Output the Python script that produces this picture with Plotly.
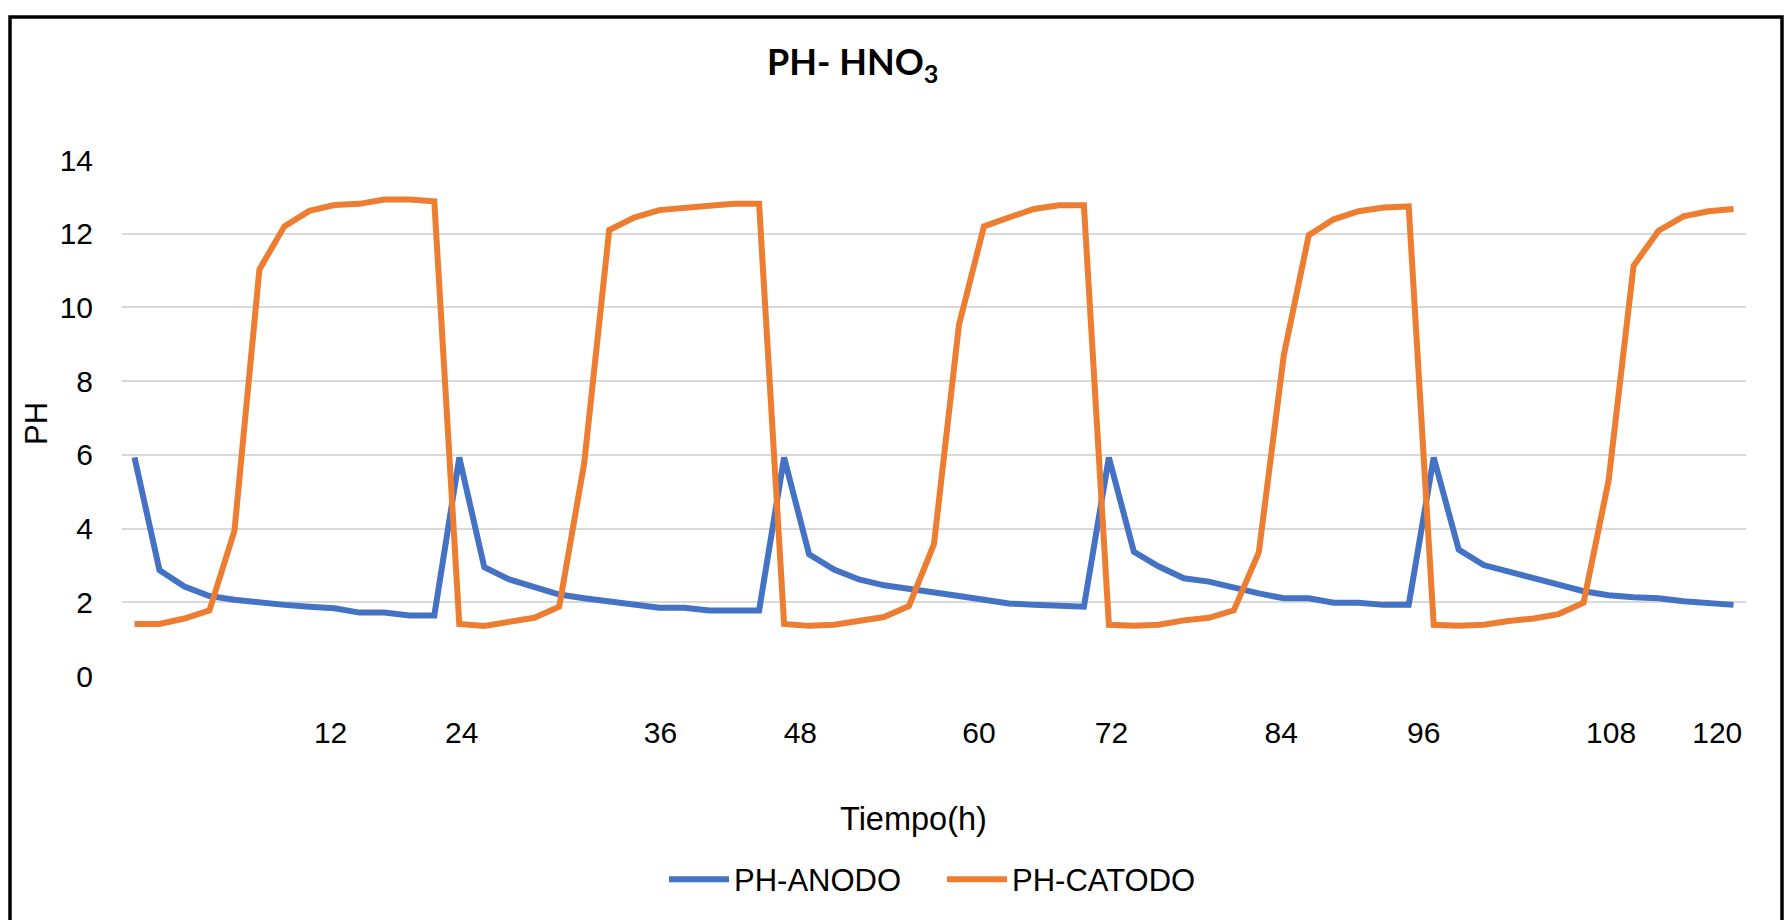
import plotly.graph_objects as go

# ---- data ----
anodo = [5.93, 2.87, 2.43, 2.17, 2.07, 1.99, 1.93, 1.88, 1.84, 1.72, 1.72, 1.64, 1.64,
         5.93, 2.95, 2.62, 2.40, 2.21, 2.11, 2.02, 1.93, 1.85, 1.85, 1.78, 1.78, 1.78,
         5.93, 3.30, 2.89, 2.62, 2.46, 2.35, 2.25, 2.17, 2.07, 1.97, 1.93, 1.90, 1.88,
         5.93, 3.37, 2.97, 2.65, 2.56, 2.38, 2.24, 2.11, 2.11, 1.99, 1.99, 1.93, 1.93,
         5.93, 3.43, 3.01, 2.82, 2.65, 2.48, 2.30, 2.19, 2.14, 2.11, 2.03, 1.99, 1.93]
catodo = [1.41, 1.41, 1.56, 1.78, 3.94, 11.03, 12.20, 12.62, 12.78, 12.81, 12.93, 12.93, 12.88,
          1.41, 1.36, 1.46, 1.58, 1.88, 5.78, 12.10, 12.44, 12.64, 12.72, 12.76, 12.81, 12.81,
          1.41, 1.36, 1.39, 1.48, 1.60, 1.90, 3.58, 9.53, 12.20, 12.44, 12.67, 12.77, 12.77,
          1.39, 1.36, 1.39, 1.51, 1.58, 1.78, 3.35, 8.70, 11.96, 12.39, 12.61, 12.71, 12.74,
          1.39, 1.36, 1.39, 1.49, 1.56, 1.68, 1.99, 5.30, 11.13, 12.08, 12.47, 12.61, 12.67]
x_index = list(range(len(anodo)))
tick_labels = ["12", "24", "36", "48", "60", "72", "84", "96", "108", "120"]
tick_positions = [7.85, 13.1, 21.05, 26.65, 33.8, 39.1, 45.9, 51.6, 59.1, 63.35]

W, H = 1784, 920
L, R, T, B = 122, 38, 160, 244
PW, PH_ = W - L - R, H - T - B


def px_x(px):
    return (px - L) / PW


def px_y(py):
    return (H - B - py) / PH_


BLUE = "#4472C4"
ORANGE = "#ED7D31"
FONT = "Liberation Sans, Arial, sans-serif"

fig = go.Figure()
fig.add_trace(go.Scatter(x=x_index, y=anodo, mode="lines", name="PH-ANODO",
                         line=dict(color=BLUE, width=6)))
fig.add_trace(go.Scatter(x=x_index, y=catodo, mode="lines", name="PH-CATODO",
                         line=dict(color=ORANGE, width=6)))

fig.update_layout(
    width=W, height=H,
    margin=dict(l=L, r=R, t=T, b=B, autoexpand=False),
    paper_bgcolor="white", plot_bgcolor="white",
    font=dict(family=FONT, size=30, color="black"),
    showlegend=True,
    legend=dict(orientation="h", x=px_x(664), y=px_y(879.5), xanchor="left", yanchor="middle",
                font=dict(size=31, family=FONT), itemwidth=60, tracegroupgap=0,
                entrywidth=203, entrywidthmode="pixels",
                bgcolor="rgba(0,0,0,0)"),
    xaxis=dict(range=[-0.5, len(anodo) - 0.5], showgrid=False, zeroline=False,
               showline=False, tickmode="array", tickvals=tick_positions, ticktext=tick_labels,
               ticks="outside", ticklen=30, tickcolor="rgba(0,0,0,0)",
               tickfont=dict(size=30, family=FONT)),
    yaxis=dict(range=[0, 14], dtick=2, showgrid=True, gridcolor="#D9D9D9", gridwidth=1.5,
               zeroline=False, showline=False, ticks="outside", ticklen=22,
               tickcolor="rgba(0,0,0,0)", tickfont=dict(size=30, family=FONT)),
    annotations=[
        dict(text="<b>PH- HNO<sub>3</sub></b>", x=px_x(852), y=px_y(63), xref="paper", yref="paper",
             showarrow=False, xanchor="center", yanchor="middle",
             font=dict(family="Lato, Open Sans, sans-serif", size=36, color="black")),
        dict(text="Tiempo(h)", x=px_x(913), y=px_y(819), xref="paper", yref="paper",
             showarrow=False, xanchor="center", yanchor="middle",
             font=dict(family=FONT, size=32.5, color="black")),
        dict(text="PH", x=px_x(36), y=px_y(424), xref="paper", yref="paper",
             showarrow=False, xanchor="center", yanchor="middle", textangle=-90,
             font=dict(family=FONT, size=31, color="black")),
    ],
    shapes=[
        dict(type="rect", xref="paper", yref="paper",
             x0=px_x(10), x1=px_x(1782), y0=px_y(935), y1=px_y(17),
             line=dict(color="black", width=3.5), fillcolor="rgba(0,0,0,0)", layer="above"),
    ],
)

fig.write_html("out.html")
